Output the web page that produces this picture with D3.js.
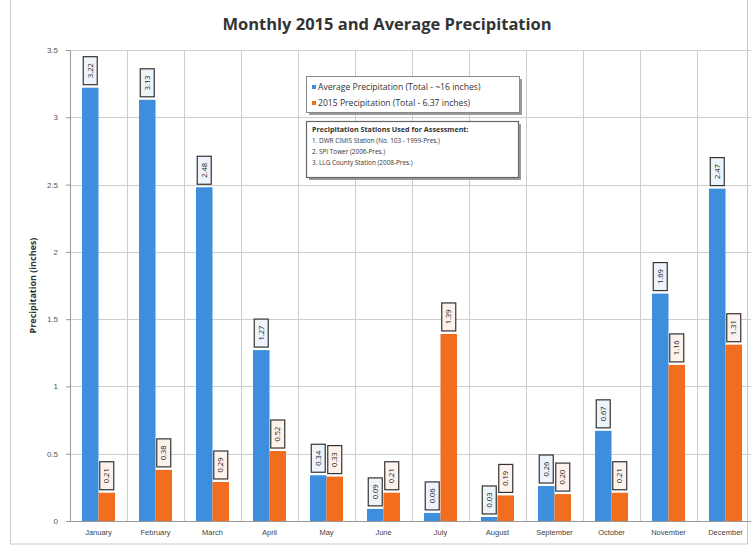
<!DOCTYPE html>
<html><head><meta charset="utf-8">
<script src="https://cdn.jsdelivr.net/npm/d3@7"></script>
<style>body{margin:0;background:#fff;}svg{display:block;font-family:"Open Sans","Liberation Sans",sans-serif;}</style>
</head><body>
<svg id="c" width="751" height="548"></svg>
<script>
const months = ["January","February","March","April","May","June","July","August","September","October","November","December"];
const averageValues = [3.22,3.13,2.48,1.27,0.34,0.09,0.06,0.03,0.26,0.67,1.69,2.47];
const values2015 = [0.21,0.38,0.29,0.52,0.33,0.21,1.39,0.19,0.20,0.21,1.16,1.31];
const yTicks = [0,0.5,1,1.5,2,2.5,3,3.5];
const seriesNames = ["Average Precipitation (Total - ~16 inches)","2015 Precipitation (Total - 6.37 inches)"];
const stationLines = ["Precipitation Stations Used for Assessment:","1. DWR CIMIS Station (No. 103 - 1999-Pres.)","2. SPI Tower (2006-Pres.)","3. LLG County Station (2008-Pres.)"];
const colors = ["#3d8fdd","#f26d1d"];

const svg = d3.select("#c");
const m = {left:70, top:50, bottom:27};
const W = 751, H = 548;
const x = d3.scaleBand().domain(months).range([m.left, m.left + 57*12]).paddingInner(0).paddingOuter(0);
const y = d3.scaleLinear().domain([0,3.5]).range([H - m.bottom, m.top]);

// outer frame
svg.append("rect").attr("x",10.5).attr("y",-2).attr("width",737).attr("height",546).attr("fill","none").attr("stroke","#c8c8c8");

// title
svg.append("text").attr("x",387).attr("y",30).attr("text-anchor","middle")
  .attr("font-size",16.5).attr("font-weight","bold").attr("fill","#333").text("Monthly 2015 and Average Precipitation");

// horizontal grid
svg.append("g").selectAll("line").data(yTicks).join("line")
  .attr("x1",m.left).attr("x2",W).attr("y1",d=>Math.round(y(d))+0.5).attr("y2",d=>Math.round(y(d))+0.5)
  .attr("stroke","#cfcfcf");
// vertical grid at category boundaries
svg.append("g").selectAll("line").data(months).join("line")
  .attr("x1",d=>Math.round(x(d))+0.5).attr("x2",d=>Math.round(x(d))+0.5)
  .attr("y1",y(3.5)).attr("y2",y(0)).attr("stroke","#cfcfcf");

// y axis
const ya = svg.append("g").attr("transform",`translate(${m.left},0)`)
  .call(d3.axisLeft(y).tickValues(yTicks).tickFormat(d=>d3.format("")(d)).tickSize(4).tickPadding(8));
ya.select(".domain").attr("stroke","#999");
ya.selectAll(".tick line").attr("stroke","#999");
ya.selectAll("text").attr("font-size",8).attr("fill","#555");

// x axis
const xa = svg.append("g").attr("transform",`translate(0,${y(0)})`)
  .call(d3.axisBottom(x).tickSize(0).tickPadding(9));
xa.select(".domain").attr("stroke","#999");
xa.selectAll("text").attr("font-size",7.5).attr("fill","#444");

// y title
svg.append("text").attr("transform",`translate(36,${(y(0)+y(3.5))/2}) rotate(-90)`)
  .attr("text-anchor","middle").attr("font-size",9).attr("font-weight","bold").attr("fill","#333")
  .text("Precipitation (inches)");

// bars
const bw = 16.5;
const series = [averageValues, values2015];
series.forEach((vals,si)=>{
  const g = svg.append("g");
  const data = months.map((mo,i)=>({mo,v:vals[i]}));
  g.selectAll("rect").data(data).join("rect")
    .attr("x",d=>x(d.mo)+x.bandwidth()/2 - bw + si*bw)
    .attr("y",d=>y(d.v)).attr("width",bw).attr("height",d=>y(0)-y(d.v))
    .attr("fill",colors[si]);
  const lg = g.selectAll("g.lab").data(data).join("g").attr("class","lab")
    .attr("transform",d=>`translate(${x(d.mo)+x.bandwidth()/2 - bw/2 + si*bw},${y(d.v)-2})`);
  lg.append("rect").attr("x",-7).attr("y",-29).attr("width",14).attr("height",28)
    .attr("fill",si===0?"#eef4fb":"#fdf2ec").attr("stroke","#333").attr("stroke-width",1.2);
  lg.append("text").attr("transform","translate(2.6,-15) rotate(-90)").attr("text-anchor","middle")
    .attr("font-size",7.5).attr("fill","#222").text(d=>d3.format(".2f")(d.v));
});

// legend box 1
const lb = svg.append("g");
lb.append("rect").attr("x",309).attr("y",79).attr("width",213).attr("height",36).attr("fill","#9a9a9a");
lb.append("rect").attr("x",306.5).attr("y",76.5).attr("width",213).attr("height",36).attr("fill","#fff").attr("stroke","#888");
seriesNames.forEach((s,i)=>{
  lb.append("rect").attr("x",312).attr("y",85+i*16).attr("width",4).attr("height",4).attr("fill",colors[i]);
  lb.append("text").attr("x",318).attr("y",90+i*16).attr("font-size",8.6).attr("fill","#333").text(s);
});
// legend box 2
const sb = svg.append("g");
sb.append("rect").attr("x",309).attr("y",124).attr("width",212).attr("height",56).attr("fill","#9a9a9a");
sb.append("rect").attr("x",306.5).attr("y",121.5).attr("width",212).attr("height",56).attr("fill","#fff").attr("stroke","#666").attr("stroke-width",1.2);
stationLines.forEach((s,i)=>{
  sb.append("text").attr("x",312).attr("y",132+i*11).attr("font-size",i===0?7.2:6.4)
    .attr("font-weight",i===0?"bold":"normal").attr("fill","#333").text(s);
});
</script>
</body></html>
